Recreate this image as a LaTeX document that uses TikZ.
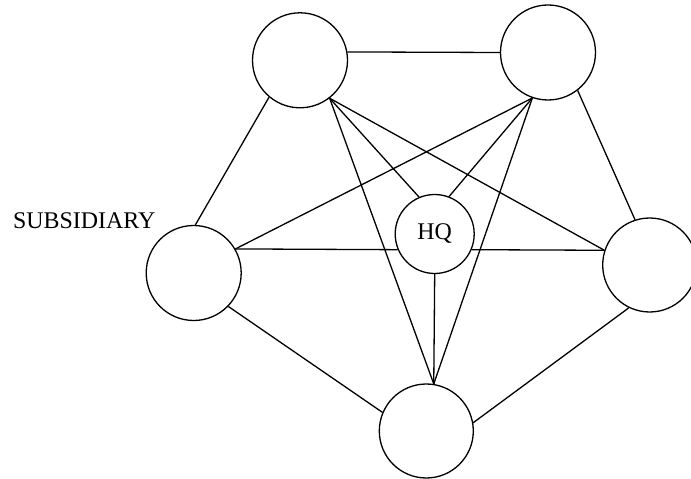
\documentclass[tikz,border=0pt]{standalone}
\usepackage{fontspec}
\setmainfont{Liberation Serif}

\begin{document}
\begin{tikzpicture}[x=1bp,y=-1bp,line width=1.3bp,
    site/.style={circle,draw,inner sep=0pt,minimum size=#1},
    font=\fontsize{24}{28}\selectfont]
    \useasboundingbox (0,0) rectangle (691,479);

    % subsidiaries round the head office
    \node[site=95bp] (sub1) at (300,60.3) {};
    \node[site=95bp] (sub2) at (548,52.5) {};
    \node[site=94bp] (sub3) at (649.7,265) {};
    \node[site=94bp] (sub4) at (426.3,431) {};
    \node[site=95bp] (sub5) at (193.7,273) {};
    \node[site=79bp] (hq) at (434.7,234) {HQ};
    \node[anchor=base,inner sep=0pt] (sublabel) at (84.2,228.3) {SUBSIDIARY};

    % outer ring
    \draw (sub1.10) -- (sub2.180);
    \draw (sub2.-52) -- (sub3.108);
    \draw (sub3.-116) -- (sub4.10);
    \draw (sub4.157) -- (sub5.-44);
    \draw (sub5.88) -- (sub1.230);
    % links across the ring (the level one is hidden behind HQ)
    \foreach \a/\b in {sub1.-52/hq.113, sub1.-52/sub4.81, sub1.-52/sub3.162,
                       sub2.-109/hq.69, sub2.-109/sub5.30, sub2.-109/sub4.81,
                       sub5.30/hq.-157, hq.-23/sub3.162, hq.-90/sub4.81} {
      \draw (\a) -- (\b);
    }
\end{tikzpicture}
\end{document}
